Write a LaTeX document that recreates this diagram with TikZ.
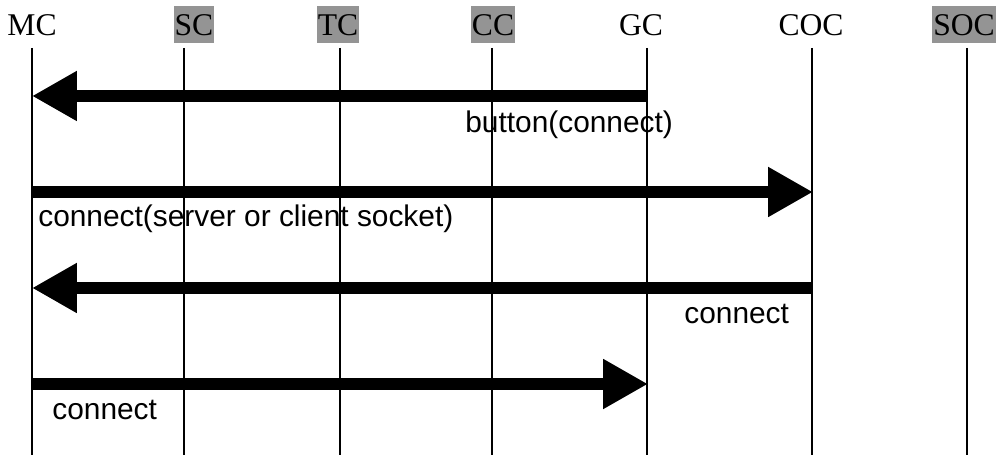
\documentclass[tikz,border=0pt]{standalone}
\usepackage{fontspec}
\setmainfont{Liberation Serif}
\setsansfont{Liberation Sans}
\usetikzlibrary{arrows.meta}

\tikzset{
	head/.style={font=\fontsize{18}{20}\selectfont,text height=0.42cm,text depth=0cm,
		minimum height=0.74cm,inner xsep=0.02cm,inner ysep=0cm},
	shaded/.style={head,fill=black!42},
	lifeline/.style={line width=0.04cm},
	msg/.style={line width=0.25cm,-{Triangle[length=0.9cm,width=0.94cm]}},
	msglabel/.style={font=\sffamily\fontsize{17}{19}\selectfont,inner sep=0cm,anchor=west}
}

\begin{document}
\begin{tikzpicture}[x=0.02cm,y=-0.02cm]
	\useasboundingbox (0,0) rectangle (996,455);
	% headers
	\node[head] (hMC) at (32,25) {MC};
	\node[shaded] (hSC) at (194,25) {SC};
	\node[shaded] (hTC) at (338,25) {TC};
	\node[shaded] (hCC) at (493,25) {CC};
	\node[head] (hGC) at (641,25) {GC};
	\node[head] (hCOC) at (811,25) {COC};
	\node[shaded] (hSOC) at (964,25) {SOC};
	% lifelines
	\foreach \name/\x in {MC/32,SC/184,TC/340,CC/492,GC/647,COC/812,SOC/967}{
		\coordinate (top\name) at (\x,48);
		\coordinate (bot\name) at (\x,455);
		\draw[lifeline] (top\name) -- (bot\name);
	}
	% message ends
	\coordinate (gc1) at (647,96);
	\coordinate (mc1) at (32,96);
	\coordinate (mc2) at (32,192);
	\coordinate (coc2) at (813,192);
	\coordinate (coc3) at (812,288);
	\coordinate (mc3) at (32,288);
	\coordinate (mc4) at (32,384);
	\coordinate (gc4) at (648,384);
	% messages
	\draw[msg] (gc1) -- (mc1);
	\node[msglabel] (lab1) at (465,125) {button(connect)};
	\draw[msg] (mc2) -- (coc2);
	\node[msglabel] (lab2) at (38,219) {connect(server or client socket)};
	\draw[msg] (coc3) -- (mc3);
	\node[msglabel] (lab3) at (684,314) {connect};
	\draw[msg] (mc4) -- (gc4);
	\node[msglabel] (lab4) at (52,410) {connect};
\end{tikzpicture}
\end{document}
